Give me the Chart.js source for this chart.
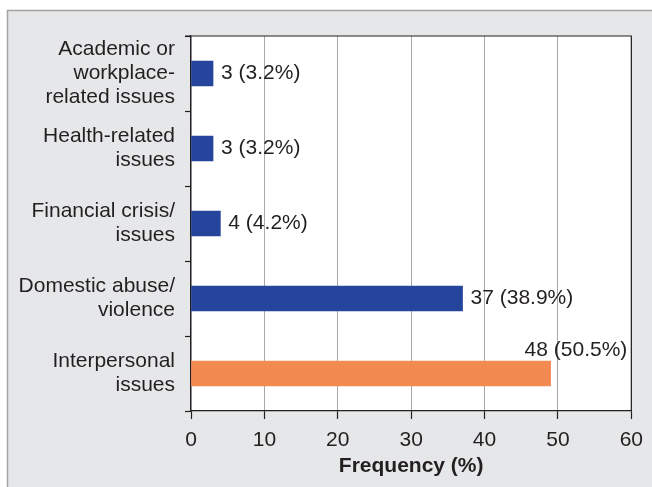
<!DOCTYPE html>
<html>
<head>
<meta charset="utf-8">
<script src="https://cdn.jsdelivr.net/npm/chart.js@4/dist/chart.umd.min.js"></script>
<style>
  html, body { margin: 0; padding: 0; background: #fff; }
  #wrap { width: 652px; height: 487px; position: relative; }
</style>
</head>
<body>
<div id="wrap"><canvas id="chart_causas"></canvas></div>
<script>
// ---- data ----
const categories = [
  ['Academic or', 'workplace-', 'related issues'],
  ['Health-related', 'issues'],
  ['Financial crisis/', 'issues'],
  ['Domestic abuse/', 'violence'],
  ['Interpersonal', 'issues']
];
const counts = [3, 3, 4, 37, 48];
const percents = [3.2, 3.2, 4.2, 38.9, 50.5];
// bar lengths as drawn in the figure (last bar reaches ~49 although labelled 48)
const barLengths = [3, 3, 4, 37, 49];
const barColors = ['#25449b', '#25449b', '#25449b', '#25449b', '#f38a52'];
const xMax = 60;
const xStep = 10;

const TXT = '#231f20';
const FONT = '"Liberation Sans", Arial, sans-serif';
const FS = 21;

// fondo gris + marco + area blanca
const fondo = {
  id: 'fondo',
  beforeDraw(chart) {
    const { ctx, chartArea: a, width, height } = chart;
    ctx.save();
    ctx.fillStyle = '#e6e7e9';
    ctx.fillRect(7, 10, width - 7, height - 10);
    ctx.strokeStyle = '#a3a3a3';
    ctx.lineWidth = 1.5;
    ctx.beginPath();
    ctx.moveTo(7.5, height);
    ctx.lineTo(7.5, 10.5);
    ctx.lineTo(width, 10.5);
    ctx.stroke();
    ctx.fillStyle = '#ffffff';
    ctx.fillRect(a.left, a.top, a.right - a.left, a.bottom - a.top);
    ctx.restore();
  },
  afterDraw(chart) {
    const { ctx, chartArea: a } = chart;
    ctx.save();
    ctx.strokeStyle = TXT;
    ctx.lineWidth = 1.2;
    ctx.beginPath();
    ctx.moveTo(a.left - 6, a.top);
    ctx.lineTo(a.right, a.top);
    ctx.lineTo(a.right, a.bottom);
    ctx.stroke();
    ctx.restore();
  }
};

// etiquetas de valor
const etiquetas = {
  id: 'etiquetas',
  afterDatasetsDraw(chart) {
    const { ctx, chartArea: a } = chart;
    const meta = chart.getDatasetMeta(0);
    ctx.save();
    ctx.font = FS + 'px ' + FONT;
    ctx.fillStyle = TXT;
    meta.data.forEach((bar, i) => {
      const txt = counts[i] + ' (' + percents[i].toFixed(1) + '%)';
      const w = ctx.measureText(txt).width;
      if (bar.x + 8 + w > a.right - 4) {
        ctx.textAlign = 'right';
        ctx.textBaseline = 'alphabetic';
        ctx.fillText(txt, a.right - 4, bar.y - bar.height / 2 - 5);
      } else {
        ctx.textAlign = 'left';
        ctx.textBaseline = 'middle';
        ctx.fillText(txt, bar.x + 8, bar.y);
      }
    });
    ctx.restore();
  }
};

const ctx_c = document.getElementById('chart_causas').getContext('2d');
const chart_causas = new Chart(ctx_c, {
  type: 'bar',
  data: {
    labels: categories,
    datasets: [{
      data: barLengths,
      backgroundColor: barColors,
      borderWidth: 0,
      barThickness: 25
    }]
  },
  options: {
    indexAxis: 'y',
    responsive: true,
    maintainAspectRatio: false,
    animation: false,
    layout: { padding: { left: 0, top: 36, right: 20, bottom: 0 } },
    plugins: {
      legend: { display: false },
      tooltip: { enabled: false }
    },
    scales: {
      x: {
        min: 0,
        max: xMax,
        afterFit(scale) { scale.height = 76; },
        ticks: {
          stepSize: xStep,
          color: TXT,
          padding: 9,
          font: { family: FONT, size: FS }
        },
        grid: {
          color: '#a8a8a8',
          lineWidth: 1,
          tickColor: TXT,
          tickLength: 8,
          tickWidth: 1.2
        },
        border: { color: TXT, width: 1.2 },
        title: {
          display: true,
          text: 'Frequency (%)',
          color: TXT,
          padding: { top: 0, bottom: 8 },
          font: { family: FONT, size: FS, weight: 'bold' }
        }
      },
      y: {
        afterFit(scale) { scale.width = 191; },
        ticks: {
          autoSkip: false,
          color: TXT,
          padding: 10,
          font: { family: FONT, size: FS, lineHeight: 1.15 }
        },
        grid: {
          offset: true,
          drawOnChartArea: false,
          tickColor: TXT,
          tickLength: 6,
          tickWidth: 1.2
        },
        border: { color: TXT, width: 1.2 }
      }
    }
  },
  plugins: [fondo, etiquetas]
});
</script>
</body>
</html>
